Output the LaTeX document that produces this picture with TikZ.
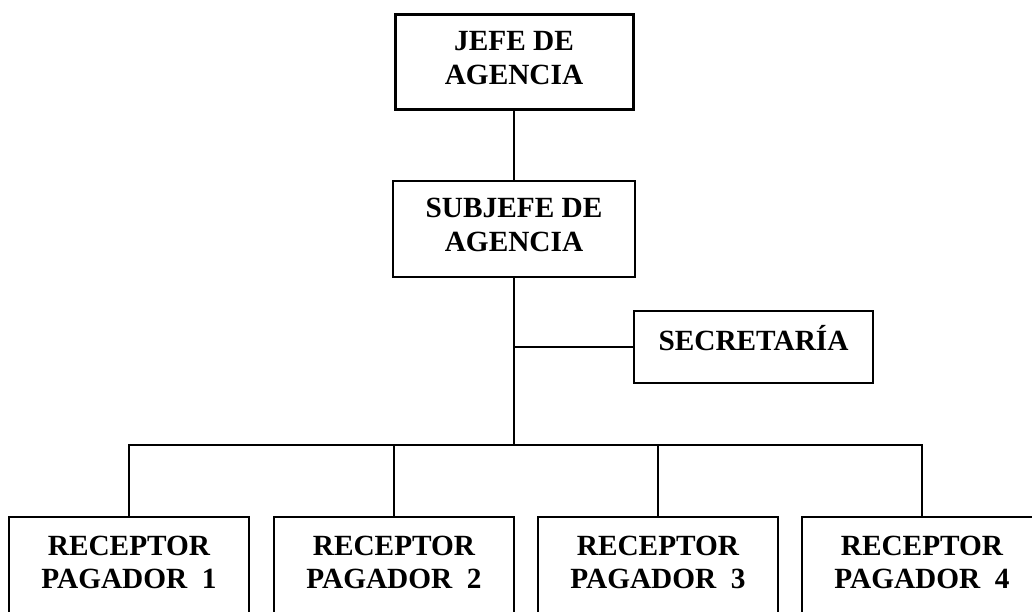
\documentclass[tikz,border=0pt]{standalone}
\usepackage{fontspec}
\setmainfont{Liberation Serif}
\begin{document}
\begin{tikzpicture}[x=1pt,y=-1pt,
  box/.style={draw=black, line width=1.3pt, rectangle, inner sep=0pt, fill=white},
  thickbox/.style={box, line width=3pt},
  txt/.style={font=\fontsize{29.3}{33.5}\selectfont\bfseries, align=center, inner sep=0pt},
  conn/.style={draw=black, line width=1.3pt}]
\useasboundingbox (0,0) rectangle (1032,611);
\clip (0,0) rectangle (1032,611);
% boxes
\node[thickbox, minimum width=238pt, minimum height=95pt] (jefe) at (514,61.5) {};
\node[box, minimum width=242pt, minimum height=96pt] (sub) at (514,229) {};
\node[box, minimum width=239pt, minimum height=72pt] (sec) at (753.5,347) {};
\node[box, minimum width=240pt, minimum height=120pt] (r1) at (129,577) {};
\node[box, minimum width=240pt, minimum height=120pt] (r2) at (394,577) {};
\node[box, minimum width=240pt, minimum height=120pt] (r3) at (658,577) {};
\node[box, minimum width=240pt, minimum height=120pt] (r4) at (922,577) {};
% texts
\node[txt] (tjefe) at (514,58) {JEFE DE\\AGENCIA};
\node[txt] (tsub) at (514,225) {SUBJEFE DE\\AGENCIA};
\node[txt, anchor=base] (tsec) at (753.5,350) {SECRETARÍA};
\node[txt] (tr1) at (129,562.5) {RECEPTOR\\PAGADOR\ \ 1};
\node[txt] (tr2) at (394,562.5) {RECEPTOR\\PAGADOR\ \ 2};
\node[txt] (tr3) at (658,562.5) {RECEPTOR\\PAGADOR\ \ 3};
\node[txt] (tr4) at (922,562.5) {RECEPTOR\\PAGADOR\ \ 4};
% connectors
\coordinate (bus) at (514,445);
\draw[conn] (jefe.south) -- (sub.north);
\draw[conn] (sub.south) -- (bus);
\draw[conn] (sec.west) -- (sec.west -| sub.south);
\draw[conn] (r1.north) -- (r1.north |- bus) -- (r4.north |- bus) -- (r4.north);
\draw[conn] (r2.north) -- (r2.north |- bus);
\draw[conn] (r3.north) -- (r3.north |- bus);
\end{tikzpicture}
\end{document}
